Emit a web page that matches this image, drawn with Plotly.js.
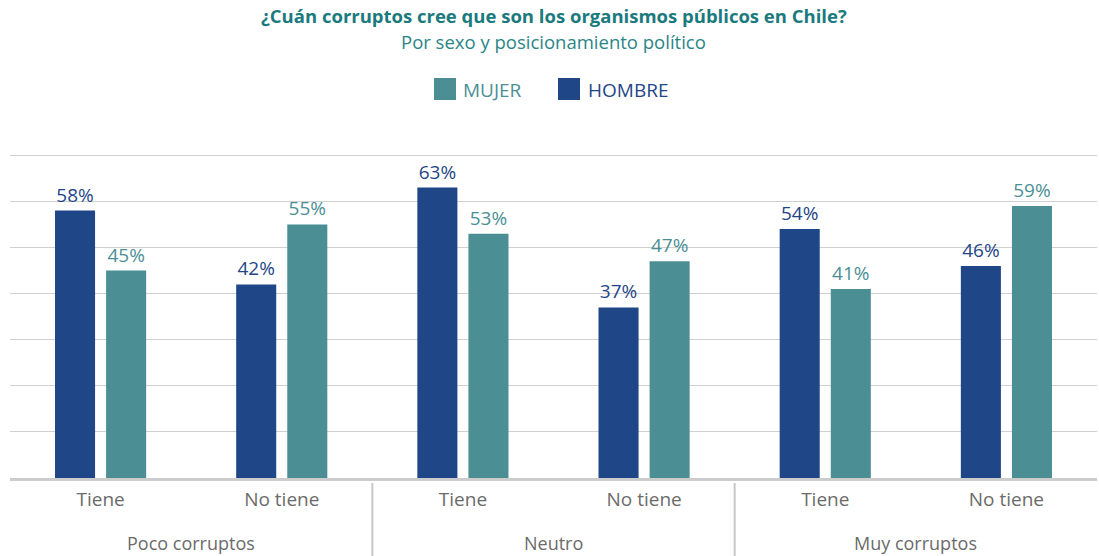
<!DOCTYPE html>
<html><head><meta charset="utf-8">
<script src="https://cdn.plot.ly/plotly-3.0.1.min.js"></script>
<style>html,body{margin:0;padding:0;background:#fff}#chart{width:1099px;height:556px}</style>
</head><body><div id="chart"></div>
<script>
const groups = ["Poco corruptos","Poco corruptos","Neutro","Neutro","Muy corruptos","Muy corruptos"];
const subcats = ["Tiene","No tiene","Tiene","No tiene","Tiene","No tiene"];
const hombre = [58,42,63,37,54,46];
const mujer = [45,55,53,47,41,59];
const seriesNames = ["HOMBRE","MUJER"];
const titleText = "¿Cuán corruptos cree que son los organismos públicos en Chile?";
const subtitleText = "Por sexo y posicionamiento político";
const colHombre = "#1F4687";
const colMujer = "#4B8F95";
const FONT = "Open Sans";

const W = 1099, H = 556;
const M = {l: 10, r: 2, t: 153, b: 78};
const pw = W - M.l - M.r, ph = H - M.t - M.b;
const px2x = px => (px - M.l) / pw;
const py2y = py => (H - M.b - py) / ph;

const xKeys = groups.map((g, i) => g + " | " + subcats[i]);

const mk = (name, vals, color) => ({
  type: "bar",
  name: name,
  x: xKeys,
  y: vals,
  marker: {color: color},
  text: vals.map(v => v + "%"),
  textposition: "outside",
  cliponaxis: false,
  textfont: {color: color, size: 19, family: FONT},
  hoverinfo: "skip",
  showlegend: false
});

const data = [mk(seriesNames[0], hombre, colHombre), mk(seriesNames[1], mujer, colMujer)];

const uniqGroups = [...new Set(groups)];
const annotations = [];
const shapes = [];
uniqGroups.forEach((g, gi) => {
  const idx = groups.map((v, i) => v === g ? i : -1).filter(i => i >= 0);
  const mid = (idx[0] + idx[idx.length - 1]) / 2;
  annotations.push({
    x: mid, xref: "x", y: py2y(543), yref: "paper", yanchor: "middle",
    text: g, showarrow: false, font: {family: FONT, size: 18, color: "#6b6b6b"}
  });
  if (gi > 0) {
    shapes.push({
      type: "line", xref: "x", yref: "paper",
      x0: idx[0] - 0.5, x1: idx[0] - 0.5, y0: py2y(483), y1: py2y(556),
      line: {color: "#c8c8c8", width: 2}
    });
  }
});

// title and subtitle
annotations.push({
  x: 0.5, xref: "paper", xanchor: "center", y: py2y(16), yref: "paper", yanchor: "middle",
  text: "<b>" + titleText + "</b>", showarrow: false,
  font: {family: FONT, size: 18.5, color: "#1A7A7D"}
});
annotations.push({
  x: 0.5, xref: "paper", xanchor: "center", y: py2y(42), yref: "paper", yanchor: "middle",
  text: subtitleText, showarrow: false,
  font: {family: FONT, size: 18.5, color: "#2A8587"}
});

// custom legend (MUJER first, then HOMBRE)
const legendItems = [
  {name: seriesNames[1], color: colMujer, sx: 434, tx: 461},
  {name: seriesNames[0], color: colHombre, sx: 558, tx: 586}
];
legendItems.forEach(it => {
  shapes.push({
    type: "rect", xref: "paper", yref: "paper",
    x0: px2x(it.sx), x1: px2x(it.sx + 22), y0: py2y(100), y1: py2y(78),
    fillcolor: it.color, line: {width: 0}
  });
  annotations.push({
    x: px2x(it.tx), xref: "paper", xanchor: "left",
    y: py2y(90), yref: "paper", yanchor: "middle",
    text: it.name, showarrow: false,
    font: {family: FONT, size: 19, color: it.color}
  });
});

const layout = {
  width: W, height: H,
  margin: M,
  paper_bgcolor: "#fff", plot_bgcolor: "#fff",
  font: {family: FONT, color: "#6b6b6b", size: 19},
  barmode: "group",
  bargap: 0.436,
  bargroupgap: 0.216,
  showlegend: false,
  xaxis: {
    type: "category",
    tickvals: xKeys, ticktext: subcats,
    showline: true, linecolor: "#cccccc", linewidth: 3,
    showgrid: false, ticks: "", ticklabelstandoff: 2,
    tickfont: {size: 19, color: "#6b6b6b", family: FONT}
  },
  yaxis: {
    range: [0, 70.5], tickvals: [10,20,30,40,50,60,70],
    showgrid: true, gridcolor: "#d0d0d0", gridwidth: 1,
    showticklabels: false, zeroline: false, showline: false, ticks: ""
  },
  annotations: annotations,
  shapes: shapes
};
Plotly.newPlot("chart", data, layout, {displayModeBar: false, staticPlot: true});
</script></body></html>
